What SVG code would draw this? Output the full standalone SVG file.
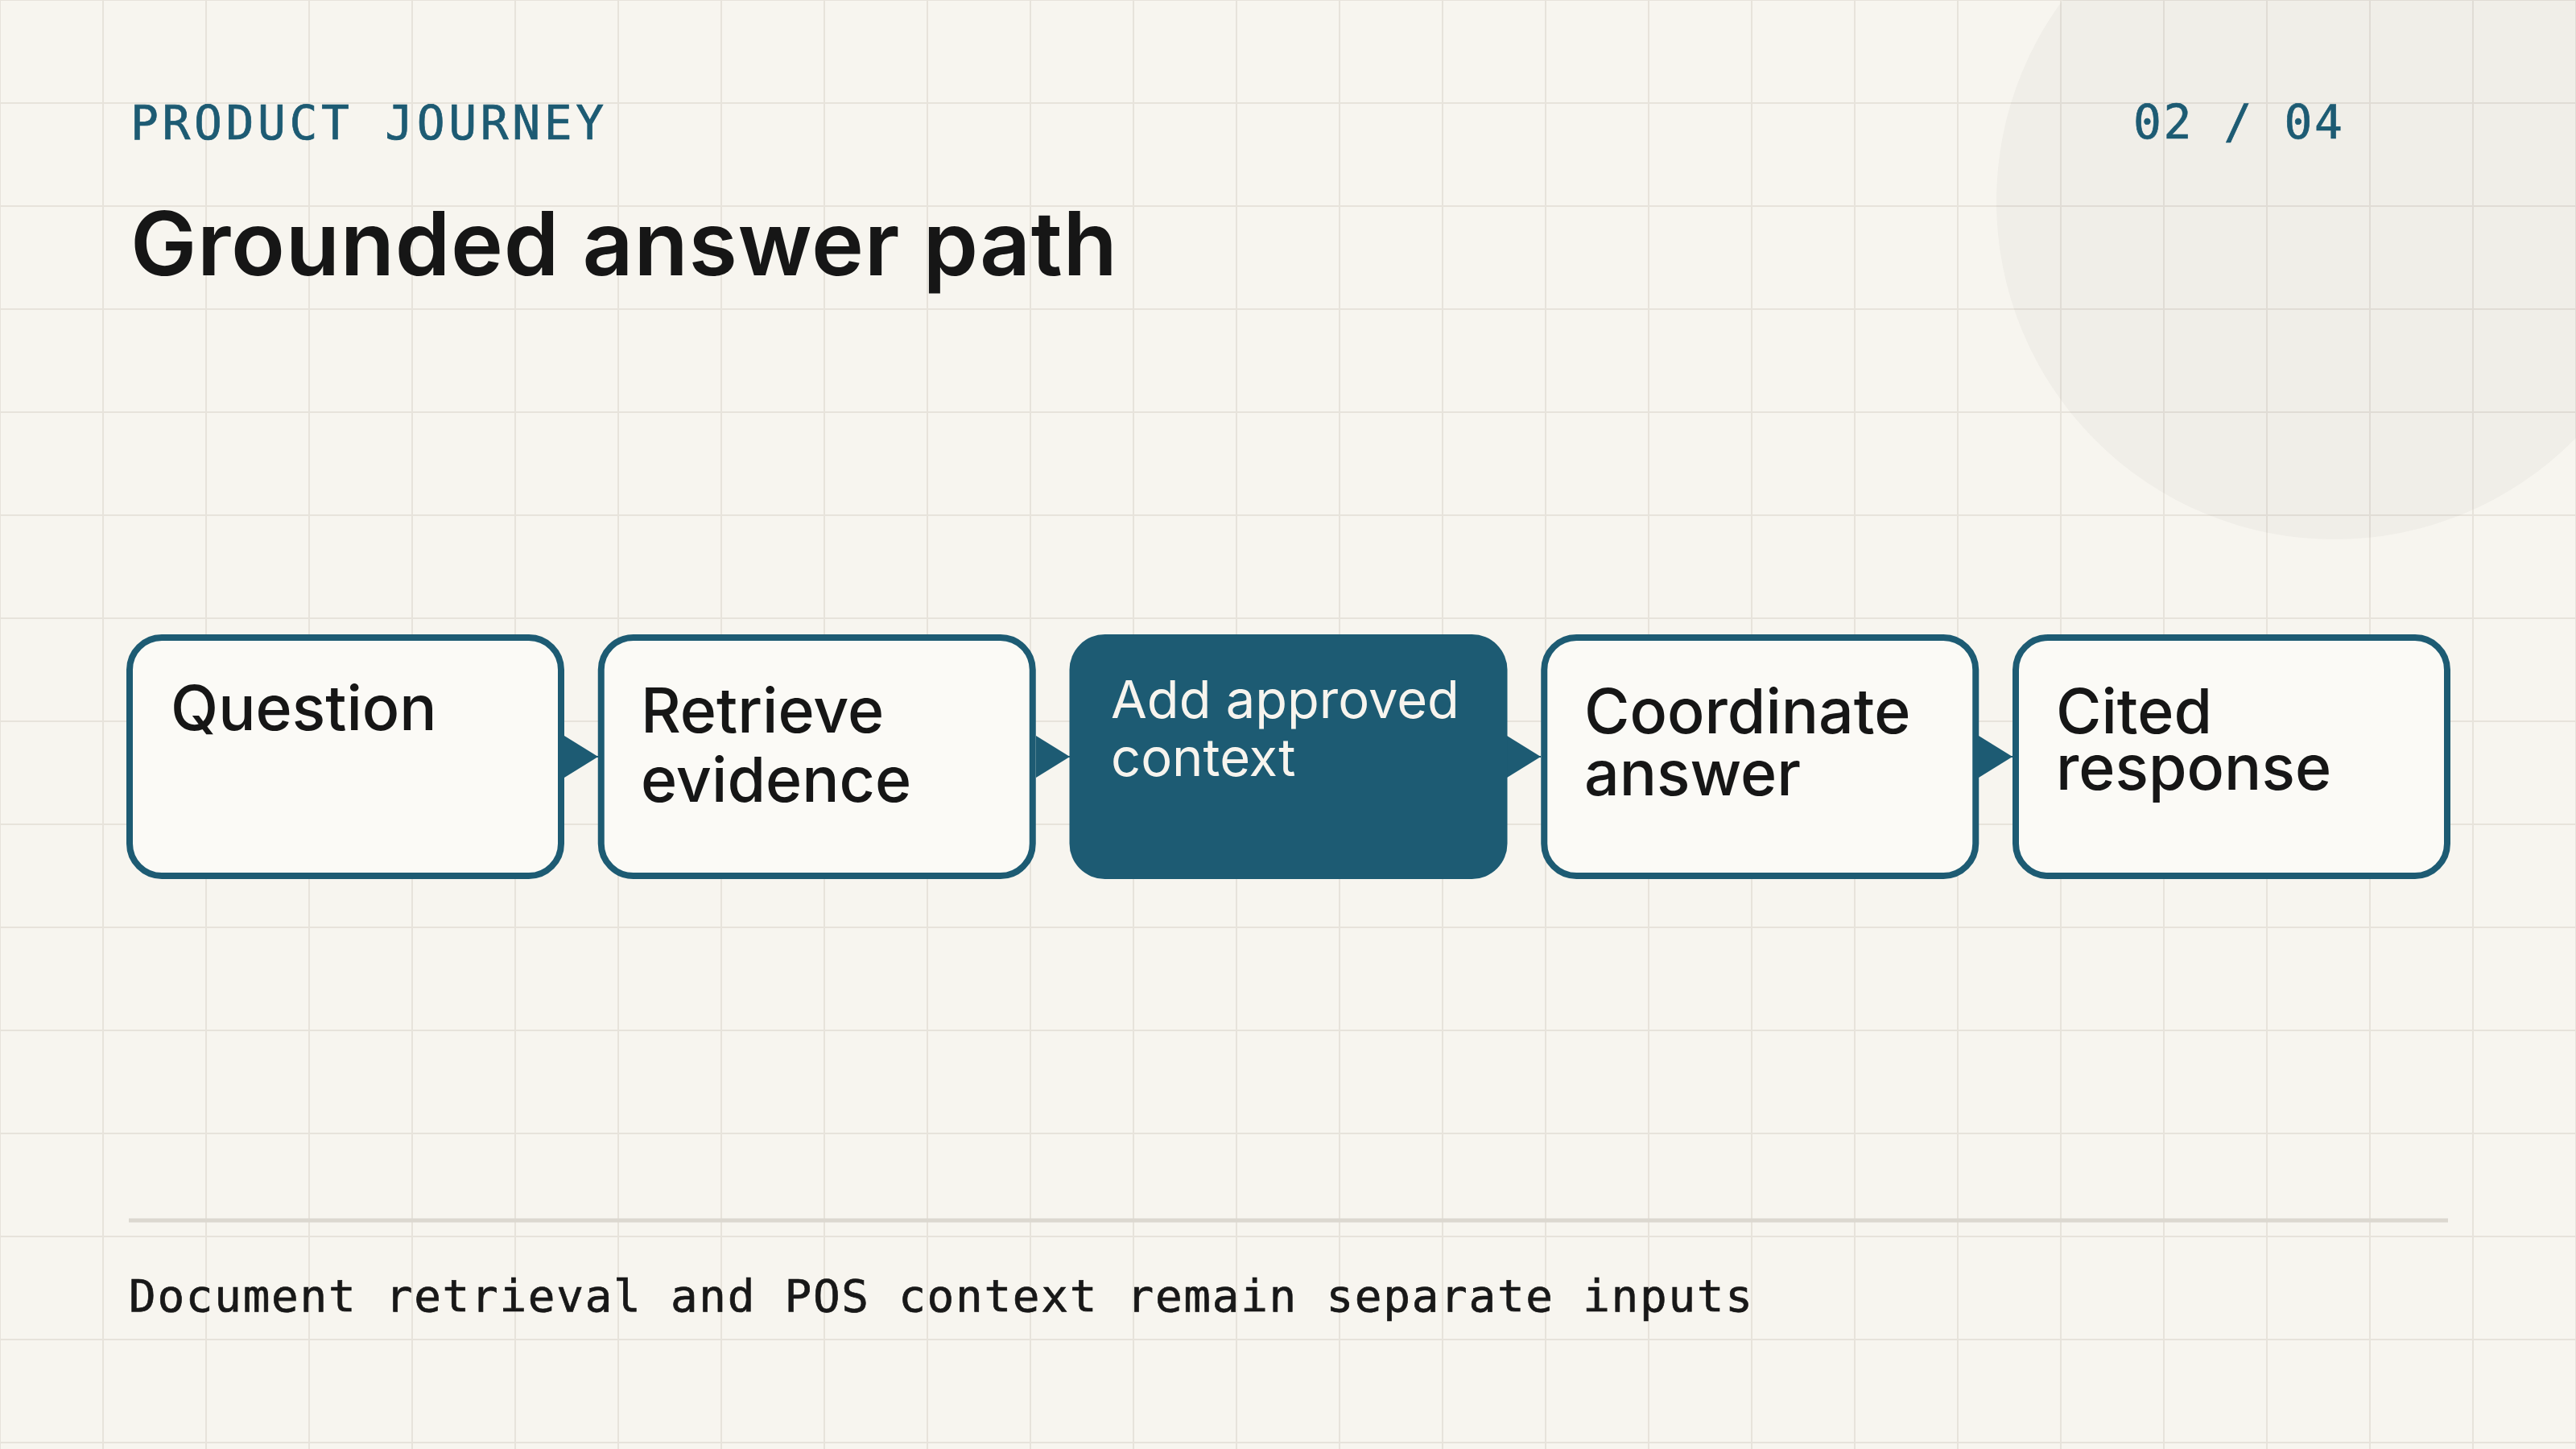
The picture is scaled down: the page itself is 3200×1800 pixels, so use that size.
<svg xmlns="http://www.w3.org/2000/svg" width="3200" height="1800" viewBox="0 0 3200 1800">
  <defs>
    <pattern id="grid" x="-1" y="-1" width="128" height="128" patternUnits="userSpaceOnUse">
      <rect x="0" y="0" width="128" height="2" fill="#e7e3db"/>
      <rect x="0" y="0" width="2" height="128" fill="#e7e3db"/>
    </pattern>
    <marker id="arrow" markerUnits="userSpaceOnUse" markerWidth="42" markerHeight="52" refX="42" refY="26" orient="auto">
      <path d="M0 0 L42 26 L0 52 Z" fill="#1d5b73"/>
    </marker>
    <style>
      .mono { font-family: "DejaVu Sans Mono", "Liberation Mono", monospace; stroke-width: 0.7; }
      .sans { font-family: Inter, "Noto Sans", "Liberation Sans", sans-serif; }
      .kicker { font-size: 58px; fill: #1d5b73; stroke: #1d5b73; }
      .box { fill: #fbfaf6; stroke: #1d5b73; stroke-width: 8; }
      .box-active { fill: #1d5b73; }
      .label { font-size: 77px; font-weight: 500; fill: #161616; }
      .label-active { font-size: 65px; font-weight: 400; fill: #f7f4ee; }
      .conn { stroke: #1d5b73; stroke-width: 2; fill: none; }
    </style>
  </defs>

  <rect width="3200" height="1800" fill="#f7f5ef"/>
  <rect width="3200" height="1800" fill="url(#grid)"/>
  <circle cx="2900" cy="250" r="420" fill="#2a2010" fill-opacity="0.032"/>

  <g id="header">
    <text class="mono kicker" x="162" y="173" letter-spacing="4.6">PRODUCT JOURNEY</text>
    <text class="mono kicker" x="2650" y="172" letter-spacing="2.6">02 / 04</text>
    <text class="sans" x="162" y="342" font-size="110" font-weight="600" letter-spacing="0.7" fill="#161616">Grounded answer path</text>
  </g>

  <g id="connectors">
    <line class="conn" x1="701" y1="940" x2="743" y2="940" marker-end="url(#arrow)"/>
    <line class="conn" x1="1287" y1="940" x2="1329" y2="940" marker-end="url(#arrow)"/>
    <line class="conn" x1="1872" y1="940" x2="1914" y2="940" marker-end="url(#arrow)"/>
    <line class="conn" x1="2458" y1="940" x2="2500" y2="940" marker-end="url(#arrow)"/>
  </g>

  <g id="node-question">
    <rect class="box" x="161" y="792" width="536" height="296" rx="40"/>
    <text class="sans label" x="212" y="907">Question</text>
  </g>
  <g id="node-retrieve">
    <rect class="box" x="746.75" y="792" width="536" height="296" rx="40"/>
    <text class="sans label" x="796" y="910">Retrieve<tspan x="796" y="996">evidence</tspan></text>
  </g>
  <g id="node-context">
    <rect class="box-active" x="1328.5" y="788" width="544" height="304" rx="44"/>
    <text class="sans label-active" x="1380" y="892">Add approved<tspan x="1380" y="964">context</tspan></text>
  </g>
  <g id="node-coordinate">
    <rect class="box" x="1918.25" y="792" width="536" height="296" rx="40"/>
    <text class="sans label" x="1968" y="911" font-size="78">Coordinate<tspan x="1968" y="988">answer</tspan></text>
  </g>
  <g id="node-cited">
    <rect class="box" x="2504" y="792" width="536" height="296" rx="40"/>
    <text class="sans label" x="2554" y="911">Cited<tspan x="2554" y="981">response</tspan></text>
  </g>

  <g id="footer">
    <line x1="160" y1="1516" x2="3041" y2="1516" stroke="#dcd8d0" stroke-width="5"/>
    <text class="mono" x="160" y="1629" font-size="56" letter-spacing="1.7" fill="#181818" stroke="#181818">Document retrieval and POS context remain separate inputs</text>
  </g>
</svg>
